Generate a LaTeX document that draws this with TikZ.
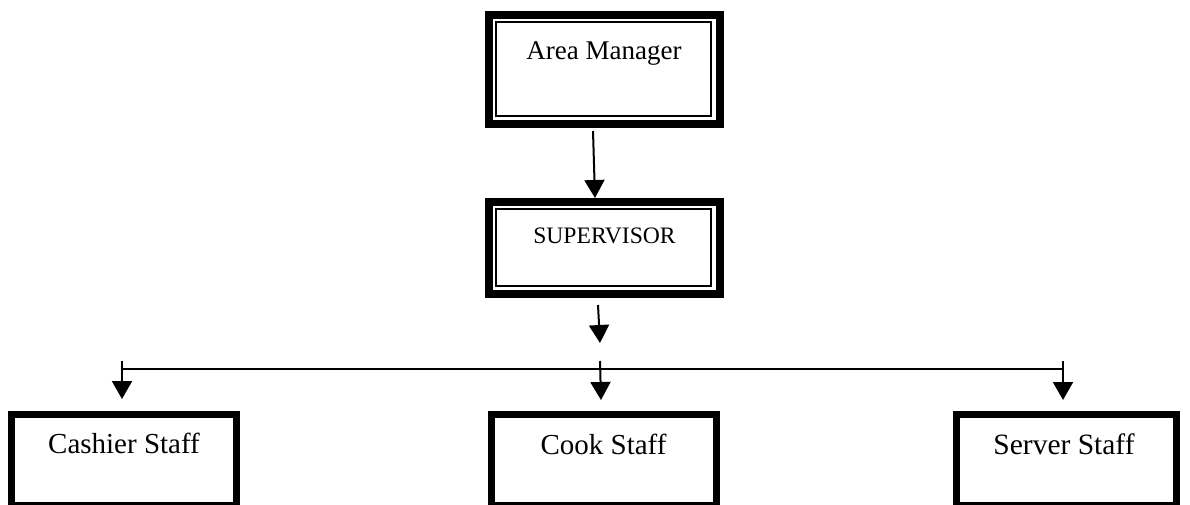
\documentclass[tikz,border=0pt]{standalone}
\usepackage{fontspec}
\setmainfont{Liberation Serif}
\usetikzlibrary{arrows.meta}
\begin{document}
\begin{tikzpicture}[x=1pt,y=-1pt,
  topbox/.style={draw, line width=8pt, inner sep=0pt, minimum width=231pt},
  staffbox/.style={draw, line width=7pt, inner sep=0pt, minimum height=90.5pt},
  lbl/.style={anchor=base, inner sep=0pt},
  arr/.style={line width=2pt, -{Triangle[width=20pt,length=18pt]}},
  hline/.style={line width=1.5pt}
]
\useasboundingbox (0,0) rectangle (1190,505);
% top boxes
\node[topbox, minimum height=109pt] (am) at (604.5,69.5) {};
\draw[line width=2pt] ([shift={(11,11)}]am.north west) rectangle ([shift={(-13,-12)}]am.south east);
\node[lbl, font=\fontsize{27}{30}\selectfont] (amt) at (604,60) {Area Manager};

\node[topbox, minimum height=92pt] (sup) at (604.5,248) {};
\draw[line width=2pt] ([shift={(11,11)}]sup.north west) rectangle ([shift={(-13,-12)}]sup.south east);
\node[lbl, font=\fontsize{23.6}{26}\selectfont] (supt) at (604.5,243) {SUPERVISOR};

% staff boxes
\node[staffbox, minimum width=225pt] (cash) at (124,459.75) {};
\node[lbl, font=\fontsize{29}{32}\selectfont] (casht) at (124,453) {Cashier Staff};
\node[staffbox, minimum width=225pt] (cook) at (604,459.75) {};
\node[lbl, font=\fontsize{29}{32}\selectfont] (cookt) at (603.5,454) {Cook Staff};
\node[staffbox, minimum width=220pt] (serv) at (1066.5,459.75) {};
\node[lbl, font=\fontsize{29.5}{32}\selectfont] (servt) at (1064,454) {Server Staff};

% connectors
\coordinate (a1s) at (593,131);
\coordinate (a1e) at (595,198);
\draw[arr] (a1s) -- (a1e);
\coordinate (a2s) at (598,305);
\coordinate (a2e) at (600,343);
\draw[arr] (a2s) -- (a2e);
\coordinate (hl) at (123,369);
\coordinate (hr) at (1063,369);
\draw[hline] (hl) -- (hr);
\coordinate (b1s) at (122,361);
\coordinate (b1e) at (122,399);
\coordinate (b2s) at (600,361);
\coordinate (b2e) at (601,400);
\coordinate (b3s) at (1063,361);
\coordinate (b3e) at (1063,400);
\draw[arr] (b1s) -- (b1e);
\draw[arr] (b2s) -- (b2e);
\draw[arr] (b3s) -- (b3e);
\end{tikzpicture}
\end{document}
